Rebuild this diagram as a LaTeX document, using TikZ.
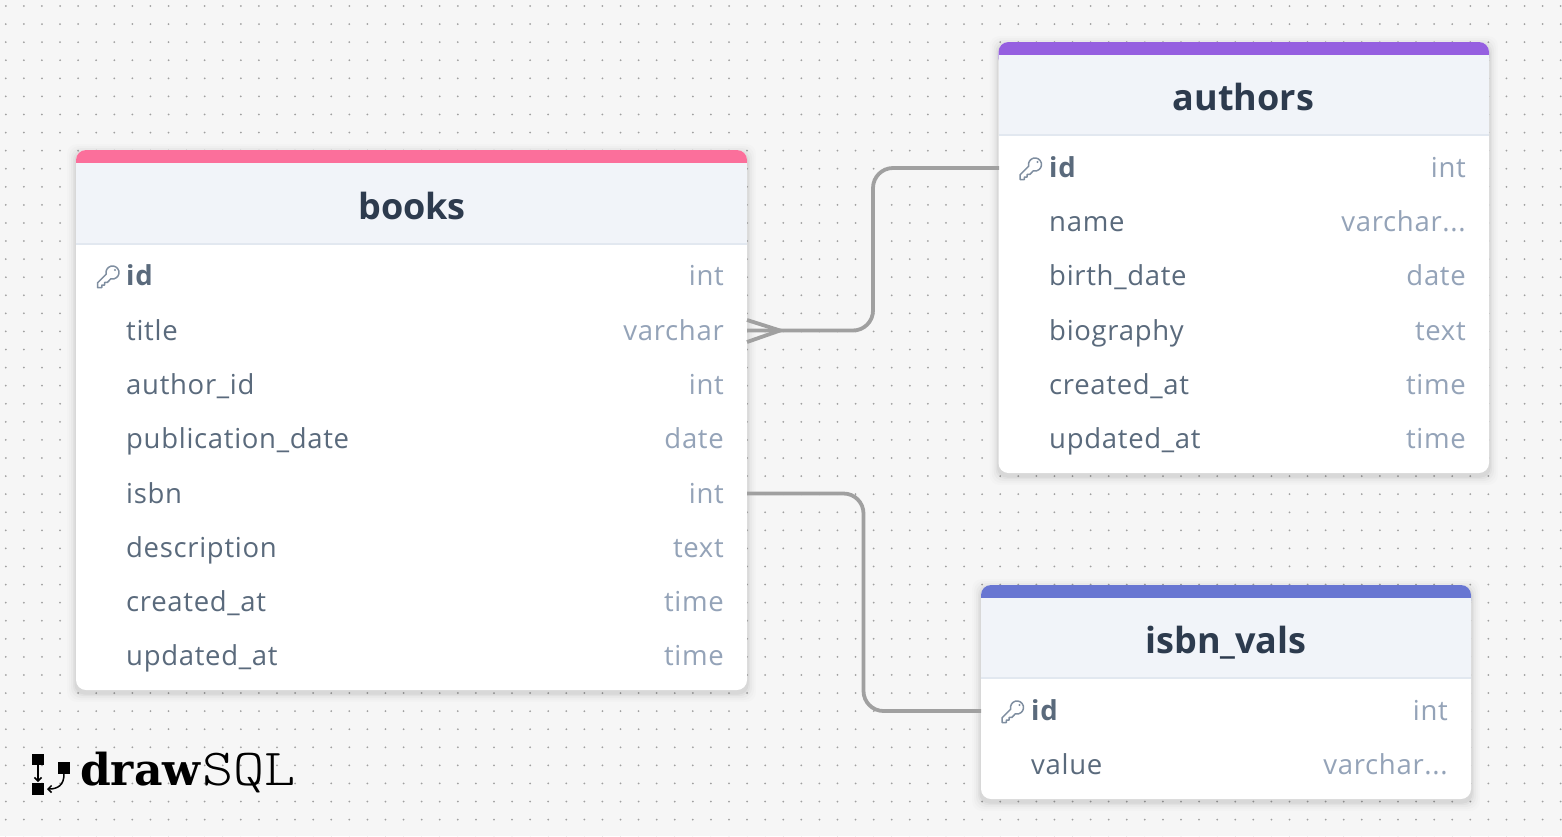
\documentclass[tikz,border=0pt]{standalone}
\usepackage{fontspec}
\usepackage{graphicx}
\setmainfont{Open Sans}
\newfontfamily\rowfont[LetterSpace=2.5]{Open Sans}
\newfontfamily\logobold{DejaVu Serif}
\newfontfamily\logolight{Latin Modern Mono Light}
\usetikzlibrary{arrows.meta,calc}
\definecolor{bgc}{HTML}{F6F6F6}
\definecolor{dotc}{HTML}{A0A0A0}
\definecolor{headc}{HTML}{F1F4F9}
\definecolor{linec}{HTML}{E2E8F0}
\definecolor{namec}{HTML}{5A6A7C}
\definecolor{typec}{HTML}{94A3B8}
\definecolor{titlec}{HTML}{2D3B4E}
\definecolor{connc}{HTML}{A0A0A0}
\definecolor{keyc}{HTML}{7F8EA0}
\definecolor{pinkc}{HTML}{FB6F9B}
\definecolor{purplec}{HTML}{955FE0}
\definecolor{bluec}{HTML}{6876D2}
\tikzset{
  x=1pt,y=-1pt,
  fieldname/.style={anchor=base west,inner sep=0pt,text=namec,font=\rowfont\fontsize{27.5}{27.5}\selectfont},
  fieldkey/.style={anchor=base west,inner sep=0pt,text=namec,font=\rowfont\fontsize{27.5}{27.5}\selectfont\bfseries},
  fieldtype/.style={anchor=base east,inner sep=0pt,text=typec,font=\rowfont\fontsize{27.5}{27.5}\selectfont},
  tabletitle/.style={anchor=base,inner sep=0pt,text=titlec,font=\fontsize{36}{36}\selectfont\bfseries},
  conn/.style={draw=connc,line width=3.8pt,rounded corners=20pt},
  keyline/.style={draw=keyc,line width=1.5pt,line cap=round,line join=round},
}
% #1 x left, #2 y top, #3 x right, #4 y bottom, #5 strip colour, #6 header bottom
\newcommand{\tablecard}[6]{%
  \foreach \s/\o in {9/0.012,7/0.016,5/0.022,3/0.03,1.5/0.04}{
    \fill[black,opacity=\o,rounded corners=10pt] (#1-\s,#2+3-\s) rectangle (#3+\s,#4+3+\s);
  }
  \fill[white,rounded corners=10pt] (#1,#2) rectangle (#3,#4);
  \fill[#5,rounded corners=10pt] (#1,#2) rectangle (#3,#2+26);
  \fill[headc] (#1,#2+13) rectangle (#3,#6);
  \draw[linec,line width=1.5pt] (#1,#6) -- (#3,#6);
}
\newcommand{\keyicon}[2]{%
  \begin{scope}[shift={(#1,#2)}]
    \draw[keyline] (-1.78,-2.82) arc[start angle=165,end angle=465,radius=6.5]
      -- (-0.6,5.4) -- (-3.4,5.4) -- (-3.4,8) -- (-6.2,8) -- (-6.2,10.5) -- (-10.5,10.5) -- (-10.5,5.9) -- cycle;
    \fill[keyc] (7,-7) circle[radius=1.2];
  \end{scope}}
\begin{document}
\begin{tikzpicture}
\useasboundingbox (0,0) rectangle (1562,836);
\fill[bgc] (0,0) rectangle (1562,836);
\foreach \i in {0,...,86}{\foreach \j in {0,...,46}{
  \fill[dotc] (5.8+18.08*\i,6+18.08*\j) circle[radius=1];
}}

\coordinate (booksTitleEnd) at (747,330.5);
\coordinate (booksTitleFork) at (780,330.5);
\coordinate (booksIsbnEnd) at (747,493.5);
\coordinate (authorsIdEnd) at (999,168);
\coordinate (isbnIdEnd) at (981,711);
\coordinate (forkTop) at (747,320);
\coordinate (forkBot) at (747,342);

\tablecard{76}{150}{747}{690}{pinkc}{244}
\tablecard{998.5}{42}{1489}{473}{purplec}{135}
\tablecard{981}{585}{1471}{799}{bluec}{678}

\draw[conn] (booksTitleEnd) -- ++(126,0) |- (authorsIdEnd);
\draw[conn] (booksIsbnEnd) -- ++(116.5,0) |- (isbnIdEnd);
\draw[connc,line width=3.8pt,line join=miter] (forkTop) -- (booksTitleFork) -- (forkBot);

% books
\node[tabletitle] (booksT) at (412,219) {books};
\keyicon{108}{277}
\node[fieldkey] (b1) at (126,285) {id};
\node[fieldtype] (b1t) at (724,285) {int};
\node[fieldname] (b2) at (126,340) {title};
\node[fieldtype] (b2t) at (724,340) {varchar};
\node[fieldname] (b3) at (126,394) {author\_id};
\node[fieldtype] (b3t) at (724,394) {int};
\node[fieldname] (b4) at (126,448) {publication\_date};
\node[fieldtype] (b4t) at (724,448) {date};
\node[fieldname] (b5) at (126,503) {isbn};
\node[fieldtype] (b5t) at (724,503) {int};
\node[fieldname] (b6) at (126,557) {description};
\node[fieldtype] (b6t) at (724,557) {text};
\node[fieldname] (b7) at (126,611) {created\_at};
\node[fieldtype] (b7t) at (724,611) {time};
\node[fieldname] (b8) at (126,665) {updated\_at};
\node[fieldtype] (b8t) at (724,665) {time};

% authors
\node[tabletitle] (authorsT) at (1243.5,110) {authors};
\keyicon{1030.5}{169}
\node[fieldkey] (a1) at (1049,177) {id};
\node[fieldtype] (a1t) at (1466,177) {int};
\node[fieldname] (a2) at (1049,231) {name};
\node[fieldtype] (a2t) at (1466,231) {varchar...};
\node[fieldname] (a3) at (1049,285) {birth\_date};
\node[fieldtype] (a3t) at (1466,285) {date};
\node[fieldname] (a4) at (1049,340) {biography};
\node[fieldtype] (a4t) at (1466,340) {text};
\node[fieldname] (a5) at (1049,394) {created\_at};
\node[fieldtype] (a5t) at (1466,394) {time};
\node[fieldname] (a6) at (1049,448) {updated\_at};
\node[fieldtype] (a6t) at (1466,448) {time};

% isbn_vals
\node[tabletitle] (isbnT) at (1226,653) {isbn\_vals};
\keyicon{1012.5}{712}
\node[fieldkey] (i1) at (1031,720) {id};
\node[fieldtype] (i1t) at (1448,720) {int};
\node[fieldname] (i2) at (1031,774) {value};
\node[fieldtype] (i2t) at (1448,774) {varchar...};

% logo
\fill[black] (32,753.5) rectangle (44,765);
\fill[black] (58,762) rectangle (70,774);
\fill[black] (32,783) rectangle (44,794.5);
\draw[black,line width=1.5pt,-{Straight Barb[length=3.5pt,width=7pt]}] (38,765) -- (38,782);
\draw[black,line width=1.5pt,-{Straight Barb[length=3.5pt,width=7pt]}] (64,774) .. controls (64,785) and (58,789) .. (47,789);
\node[anchor=base west,inner sep=0pt,text=black,font=\logobold\bfseries\fontsize{44}{44}\selectfont] (logoDraw) at (80,785) {draw};
\node[anchor=base west,inner sep=0pt,text=black,font=\logolight\fontsize{52}{52}\selectfont] (logoSql) at (202.5,785) {\scalebox{1.14}[1]{SQL}};
\end{tikzpicture}
\end{document}
